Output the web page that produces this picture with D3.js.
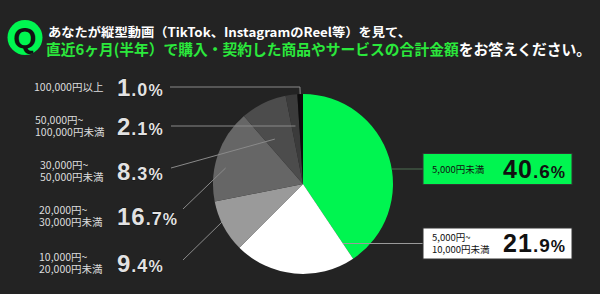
<!DOCTYPE html>
<html>
<head>
<meta charset="utf-8">
<script src="https://cdn.jsdelivr.net/npm/d3@7"></script>
<style>
  body { margin: 0; background: #232323; }
  svg { display: block; }
</style>
</head>
<body>
<svg id="chart"></svg>
<script>
// data, clockwise from 12 o'clock
const values = [40.6, 21.9, 9.4, 16.7, 8.3, 2.1, 1.0];
const labels = [
  ["5,000円未満"],
  ["5,000円~", "10,000円未満"],
  ["10,000円~", "20,000円未満"],
  ["20,000円~", "30,000円未満"],
  ["30,000円~", "50,000円未満"],
  ["50,000円~", "100,000円未満"],
  ["100,000円以上"]
];
const titleLine1 = "あなたが縦型動画（TikTok、InstagramのReel等）を見て、";
const titleGreen = "直近6ヶ月(半年）で購入・契約した商品やサービスの合計金額";
const titleWhite = "をお答えください。";

const W = 600, H = 294;
const cx = 303, cy = 184, R = 90;
const green = "#00f550";
const colors = [green, "#ffffff", "#9a9a9a", "#666666", "#4c4c4c", "#3b3b3b", "#0c0c0c"];

// label layout per slice
const layout = [
  {box: true, y: 169},
  {box: true, y: 243.5, ray: "start"},
  {y: 263, lx: 39, line: [183, 260], frac: 0.59, r: 89},
  {y: 216, lx: 39, line: [183, 209], frac: 0.38, r: 79},
  {y: 171, lx: 40, line: [171, 168], frac: 0.3, r: 53},
  {y: 126, lx: 35, horiz: 171},
  {y: 87, lx: 34, horiz: 170, corner: true}
];

const svg = d3.select("#chart").attr("width", W).attr("height", H);
svg.append("rect").attr("width", W).attr("height", H).attr("fill", "#232323");

const jp = "'Noto Sans CJK JP', 'Noto Sans', sans-serif";
const num = "'Liberation Sans', Arial, sans-serif";

// title
const q = svg.append("g");
q.append("circle").attr("cx", 25).attr("cy", 37.5).attr("r", 17.5).attr("fill", green);
q.append("text").attr("x", 25).attr("y", 48).attr("text-anchor", "middle")
  .attr("font-family", num).attr("font-weight", 700).attr("font-size", 30)
  .attr("fill", "#111").text("Q");

svg.append("text").attr("x", 48).attr("y", 36.5)
  .attr("font-family", jp).attr("font-weight", 700).attr("font-size", 12.5)
  .attr("fill", "#fff").attr("textLength", 363).attr("lengthAdjust", "spacingAndGlyphs")
  .text(titleLine1);

const t2 = svg.append("text").attr("x", 46).attr("y", 54.5)
  .attr("font-family", jp).attr("font-weight", 700).attr("font-size", 15)
  .attr("textLength", 545).attr("lengthAdjust", "spacingAndGlyphs");
t2.append("tspan").attr("fill", "#2be83c").text(titleGreen);
t2.append("tspan").attr("fill", "#fff").text(titleWhite);

// pie
const pie = d3.pie().sort(null).value(d => d)(values);
const arc = d3.arc().innerRadius(0).outerRadius(R);

const polar = (a, r) => [cx + r * Math.sin(a), cy - r * Math.cos(a)];
const rayAtY = (a, y) => [cx + (cy - y) / Math.cos(a) * Math.sin(a), y];

svg.append("g").attr("transform", `translate(${cx},${cy})`)
  .selectAll("path").data(pie).join("path")
  .attr("d", arc)
  .attr("fill", (d, i) => colors[i]);

// percent text with smaller decimals
function pct(text, v, sizes) {
  const [a, b] = v.toFixed(1).split(".");
  text.append("tspan").attr("font-size", sizes[0]).text(a);
  text.append("tspan").attr("font-size", sizes[1]).text("." + b);
  text.append("tspan").attr("font-size", sizes[2]).text("%");
}

const lines = svg.append("g").attr("fill", "none").attr("stroke-width", 1);
const boxX = 423, boxW = 149, boxH = 31;

pie.forEach((d, i) => {
  const L = layout[i];
  if (L.box) {
    let p;
    if (L.ray === "start") p = rayAtY(d.startAngle, L.y);
    else p = [cx + Math.sqrt(R * R - (L.y - cy) ** 2), L.y];
    lines.append("line").attr("x1", p[0]).attr("y1", L.y).attr("x2", boxX).attr("y2", L.y)
      .attr("stroke", i === 0 ? "#4f6f52" : "#9a9a9a");
    svg.append("rect").attr("x", boxX).attr("y", L.y - boxH / 2).attr("width", boxW).attr("height", boxH)
      .attr("fill", colors[i]).attr("stroke", "#333").attr("stroke-width", 1);
    const lt = svg.append("text").attr("font-family", jp).attr("font-size", 9.5).attr("fill", "#111");
    labels[i].forEach((s, k) => {
      lt.append("tspan").attr("x", 432)
        .attr("y", L.y + 3.5 + (k - (labels[i].length - 1) / 2) * 11.5).text(s);
    });
    const nt = svg.append("text").attr("x", 566).attr("y", L.y + 8.5).attr("text-anchor", "end")
      .attr("font-family", num).attr("font-weight", 700).attr("letter-spacing", 1)
      .attr("fill", "#111");
    pct(nt, values[i], [25, 19, 16]);
    return;
  }
  const mid = (d.startAngle + d.endAngle) / 2;
  if (L.horiz) {
    const p = rayAtY(mid, L.y);
    const pts = [[L.horiz, L.y], p];
    if (L.corner) pts.push(polar(mid, R));
    lines.append("path").attr("d", d3.line()(pts)).attr("stroke", "#8a8a8a");
  } else {
    const a = d.startAngle + L.frac * (d.endAngle - d.startAngle);
    const p = polar(a, L.r);
    lines.append("line").attr("x1", L.line[0]).attr("y1", L.line[1])
      .attr("x2", p[0]).attr("y2", p[1]).attr("stroke", "#8a8a8a");
  }
  const lt = svg.append("text").attr("font-family", jp).attr("font-size", 10.5).attr("fill", "#ddd");
  labels[i].forEach((s, k) => {
    lt.append("tspan").attr("x", L.lx)
      .attr("y", L.y + 4 + (k - (labels[i].length - 1) / 2) * 12.5).text(s);
  });
  const nt = svg.append("text").attr("x", 117).attr("y", L.y + 9)
    .attr("font-family", num).attr("font-weight", 700).attr("letter-spacing", 1)
    .attr("fill", "#e2e2e2").attr("stroke", "#000").attr("stroke-width", 0.6)
    .attr("paint-order", "stroke");
  pct(nt, values[i], [24, 18, 16]);
});
</script>
</body>
</html>
